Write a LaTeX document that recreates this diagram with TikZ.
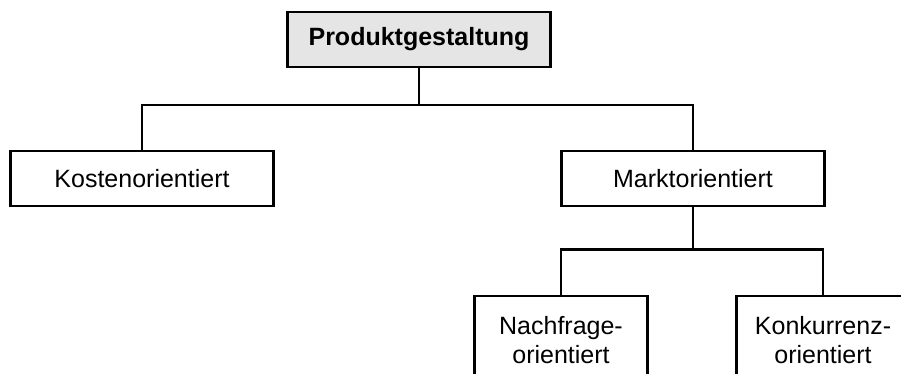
\documentclass[tikz,border=0pt]{standalone}
\usepackage{fontspec}
\setmainfont{Liberation Sans}
\begin{document}
\begin{tikzpicture}[x=1pt,y=-1pt,
  box/.style={draw, line width=2.4pt, minimum width=263pt, minimum height=55pt,
    inner sep=0pt, font=\fontsize{25}{29}\selectfont},
  rootbox/.style={box, fill=black!10, font=\fontsize{25}{29}\selectfont\bfseries},
  leafbox/.style={box, minimum width=173pt, minimum height=87pt, anchor=north, align=center},
  link/.style={line width=2.4pt}]
  \useasboundingbox (0,0) rectangle (901,374);
  \clip (0,0) rectangle (901,374);

  % boxes
  \node[rootbox] (pg) at (419,39.5) {Produktgestaltung};
  \node[box] (ko) at (142,178.5) {Kostenorientiert};
  \node[box] (mo) at (693,178.5) {Marktorientiert};
  \node[leafbox] (na) at (561,295) {Nachfrage-\\orientiert};
  \node[leafbox] (kk) at (823,295) {Konkurrenz-\\orientiert};

  % bus lines
  \coordinate (bus1) at (0,105);
  \coordinate (bus2) at (0,249.5);

  % connectors
  \draw[link] (pg.south) -- (pg.south |- bus1);
  \draw[link] (ko.north) -- (ko.north |- bus1) -- (mo.north |- bus1) -- (mo.north);
  \draw[link] (mo.south) -- (mo.south |- bus2);
  \draw[link] (na.north) -- (na.north |- bus2) -- (kk.north |- bus2) -- (kk.north);
\end{tikzpicture}
\end{document}
